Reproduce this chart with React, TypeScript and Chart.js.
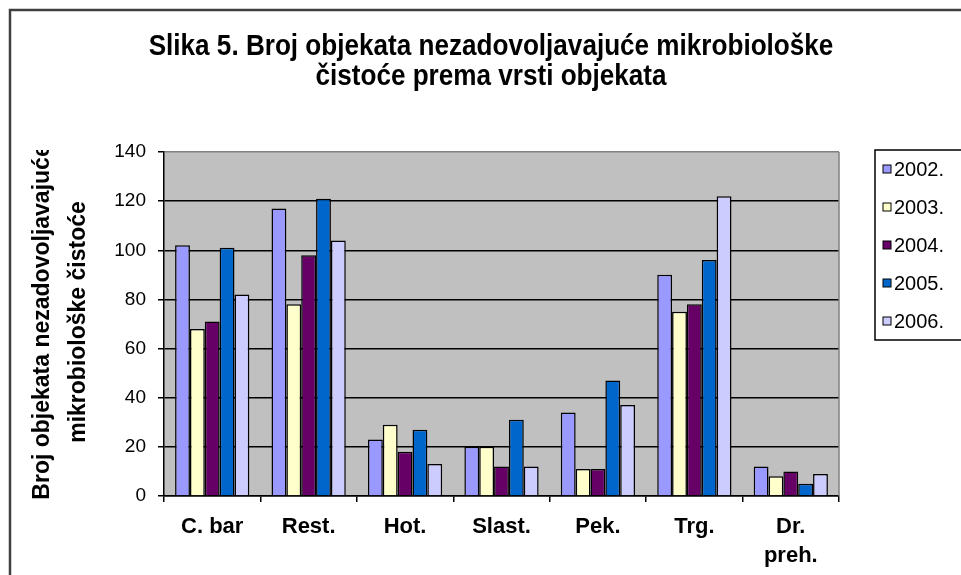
import React, { useEffect, useRef } from "react";
import { Chart, registerables } from "chart.js";

Chart.register(...registerables);

const titleLines = [
  "Slika 5. Broj objekata nezadovoljavajuće mikrobiološke",
  "čistoće prema vrsti objekata",
];
const yTitleLines = ["Broj objekata nezadovoljavajuće", "mikrobiološke čistoće"];

const categories: (string | string[])[] = ["C. bar", "Rest.", "Hot.", "Slast.", "Pek.", "Trg.", ["Dr.", "preh."]];
const seriesNames = ["2002.", "2003.", "2004.", "2005.", "2006."];
const seriesColors = ["#9999FF", "#FFFFCC", "#660066", "#0066CC", "#CCCCFF"];

const values2002 = [102, 117, 23, 20, 34, 90, 12];
const values2003 = [68, 78, 29, 20, 11, 75, 8];
const values2004 = [71, 98, 18, 12, 11, 78, 10];
const values2005 = [101, 121, 27, 31, 47, 96, 5];
const values2006 = [82, 104, 13, 12, 37, 122, 9];

const yTicks = [0, 20, 40, 60, 80, 100, 120, 140];

const FONT = '"Liberation Sans", Arial, sans-serif';

const decorPlugin = {
  id: "decor",
  beforeDraw(chart: any) {
    const { ctx, chartArea: a, width, height } = chart;
    ctx.save();
    ctx.fillStyle = "#FFFFFF";
    ctx.fillRect(0, 0, width, height);
    ctx.fillStyle = "#C0C0C0";
    ctx.fillRect(a.left, a.top, a.right - a.left, a.bottom - a.top);
    ctx.restore();
  },
  afterDraw(chart: any) {
    const { ctx, chartArea: a } = chart;
    ctx.save();
    // outer frame
    ctx.strokeStyle = "#404040";
    ctx.lineWidth = 2.5;
    ctx.strokeRect(10, 10, 2000, 2000);
    // plot area right border
    ctx.strokeStyle = "#808080";
    ctx.lineWidth = 1.5;
    ctx.beginPath();
    ctx.moveTo(a.right, a.top);
    ctx.lineTo(a.right, a.bottom);
    ctx.stroke();

    // title (condensed bold)
    ctx.save();
    ctx.fillStyle = "#000";
    ctx.font = `bold 30px ${FONT}`;
    ctx.textAlign = "center";
    ctx.textBaseline = "middle";
    const tys = [47, 77];
    titleLines.forEach((line, i) => {
      ctx.save();
      ctx.translate(491, tys[i]);
      ctx.scale(0.87, 1);
      ctx.fillText(line, 0, 0);
      ctx.restore();
    });
    ctx.restore();

    // y axis title (clipped as in the original)
    ctx.save();
    ctx.beginPath();
    ctx.rect(0, a.top - 2, a.left - 40, 575);
    ctx.clip();
    ctx.fillStyle = "#000";
    ctx.font = `bold 23px ${FONT}`;
    ctx.textAlign = "center";
    ctx.textBaseline = "middle";
    const cy = 322;
    const xs = [43, 79];
    yTitleLines.forEach((line, i) => {
      ctx.save();
      ctx.translate(xs[i], cy);
      ctx.rotate(-Math.PI / 2);
      ctx.fillText(line, 0, 0);
      ctx.restore();
    });
    ctx.restore();

    // legend
    const lx = 875, ly = 150, lh = 190;
    ctx.fillStyle = "#FFFFFF";
    ctx.fillRect(lx, ly, 200, lh);
    ctx.strokeStyle = "#000";
    ctx.lineWidth = 1.5;
    ctx.strokeRect(lx, ly, 200, lh);
    ctx.font = `20px ${FONT}`;
    ctx.textAlign = "left";
    ctx.textBaseline = "middle";
    chart.data.datasets.forEach((ds: any, i: number) => {
      const y = 169 + i * 38;
      ctx.fillStyle = ds.backgroundColor;
      ctx.fillRect(883, y - 4, 8, 8);
      ctx.strokeStyle = "#000";
      ctx.lineWidth = 1;
      ctx.strokeRect(883, y - 4, 8, 8);
      ctx.fillStyle = "#000";
      ctx.fillText(ds.label, 894, y + 1);
    });
    ctx.restore();
  },
};

export default function App() {
  const ref = useRef<HTMLCanvasElement>(null);
  useEffect(() => {
    document.body.style.margin = "0";
    const all = [values2002, values2003, values2004, values2005, values2006];
    const chart = new Chart(ref.current as HTMLCanvasElement, {
      type: "bar",
      data: {
        labels: categories as any,
        datasets: all.map((vals, i) => ({
          label: seriesNames[i],
          data: vals,
          backgroundColor: seriesColors[i],
          borderColor: "#000000",
          borderWidth: 1.5,
          categoryPercentage: 0.77,
          barPercentage: 1.0,
        })),
      },
      options: {
        responsive: false,
        animation: false,
        devicePixelRatio: 1,
        layout: { padding: { left: 0, top: 152, right: 122, bottom: 0 } },
        plugins: {
          legend: { display: false },
          tooltip: { enabled: false },
          title: { display: false },
        },
        scales: {
          x: {
            grid: {
              drawOnChartArea: false,
              drawTicks: true,
              tickLength: 6,
              color: "#000",
              lineWidth: 1.5,
            },
            border: { color: "#000", width: 1.5 },
            ticks: {
              color: "#000",
              font: { family: FONT, size: 22, weight: "bold", lineHeight: 1.32 },
              padding: 10,
              maxRotation: 0,
              autoSkip: false,
            },
            afterFit(scale: any) {
              scale.height = 79;
            },
          },
          y: {
            min: 0,
            max: 140,
            afterBuildTicks(scale: any) {
              scale.ticks = yTicks.map((v) => ({ value: v }));
            },
            grid: {
              color: (c: any) => (c.tick && c.tick.value === 140 ? "#808080" : "#000"),
              lineWidth: 1.5,
              tickLength: 6,
              tickColor: "#000",
            },
            border: { color: "#000", width: 1.5 },
            ticks: {
              color: "#000",
              font: { family: FONT, size: 19 },
              padding: 12,
            },
            afterFit(scale: any) {
              scale.width = 164;
            },
          },
        },
      },
      plugins: [decorPlugin],
    } as any);
    return () => chart.destroy();
  }, []);
  return (
    <div style={{ position: "absolute", left: 0, top: 0, width: 961, height: 575 }}>
      <canvas ref={ref} width={961} height={575} style={{ display: "block" }} />
    </div>
  );
}
